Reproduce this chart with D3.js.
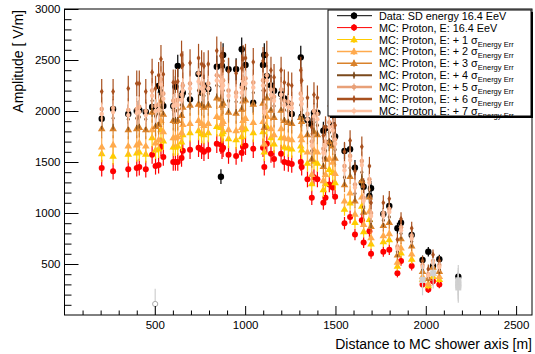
<!DOCTYPE html>
<html>
<head>
<meta charset="utf-8">
<script src="https://cdn.jsdelivr.net/npm/d3@7"></script>
<style>
  body { margin: 0; background: #fff; }
  text { font-family: "Liberation Sans", Arial, Helvetica, sans-serif; }
</style>
</head>
<body>
<div id="chart"></div>
<script>
// station distances [m]
const distances = [206, 269, 353, 400, 414, 450, 485, 504, 521, 534, 547, 602, 614, 627, 648, 655, 695, 742, 759, 772,
  796, 843, 866, 872, 878, 908, 950, 981, 988, 1002, 1045, 1099, 1106, 1120, 1143, 1160, 1199, 1217, 1239, 1258,
  1308, 1313, 1345, 1369, 1381, 1400, 1433, 1445, 1466, 1485, 1498, 1550, 1581, 1608, 1646, 1656, 1688, 1697, 1765, 1798,
  1843, 1863, 1922, 1982, 2014, 2040, 2075, 2180];

const dataAmp = [1925, 2020, 1970, 2000, 2010, 1990, 2040, 2017, 2245, 2183, 2050, 2049, 2238, 2441, 2150, 2180, 2114, 2363, 2180, 2250,
  2213, 2435, 1356, 2441, 2549, 2409, 2409, 2605, 2255, 2451, 2081, 2451, 2549, 2343, 2250, 2199, 2167, 2124, 2075, 1971,
  2526, 1944, 1912, 1870, 1983, 1983, 1807, 1830, 1689, 1863, 1750, 1608, 1625, 1444, 1297, 1258, 1167, 1242, 990, 1069,
  850, 905, 784, 539, 621, 480, 546, 375];

const mcE = [1440, 1410, 1430, 1440, 1450, 1430, 1570, 1460, 1470, 1650, 1550, 1500, 1500, 1500, 1540, 1610, 1620, 1640, 1620, 1600,
  1620, 1680, 1670, 1620, 1640, 1570, 1560, 1590, 1650, 1660, 1630, 1640, 1450, 1680, 1580, 1530, 1580, 1500, 1490, 1480,
  1500, 1450, 1330, 1150, 1350, 1330, 1100, 1150, 1280, 1250, 1160, 900, 960, 790, 930, 710, 820, 600, 620, 640,
  410, 530, 480, 300, 250, 330, 300, null];
const mcP1 = [1585, 1560, 1580, 1590, 1600, 1580, 1740, 1620, 1630, 1820, 1710, 1650, 1650, 1660, 1700, 1770, 1790, 1810, 1780, 1770,
  1790, 1850, 1840, 1780, 1800, 1730, 1720, 1750, 1820, 1830, 1790, 1800, 1600, 1850, 1740, 1680, 1740, 1650, 1640, 1630,
  1660, 1620, 1490, 1290, 1510, 1490, 1230, 1290, 1430, 1400, 1300, 1040, 1100, 910, 1070, 820, 940, 700, 720, 740,
  480, 610, 550, 350, 290, 380, 350, null];
const mcP2 = [1650, 1670, 1660, 1670, 1690, 1660, 1820, 1690, 1720, 1910, 1800, 1740, 1740, 1750, 1790, 1870, 1880, 1910, 1880, 1860,
  1880, 1950, 1940, 1880, 1900, 1820, 1810, 1840, 1910, 1930, 1890, 1900, 1680, 1950, 1830, 1770, 1830, 1740, 1730, 1720,
  1760, 1720, 1600, 1380, 1620, 1600, 1320, 1380, 1540, 1500, 1390, 1120, 1200, 990, 1160, 890, 1020, 760, 780, 800,
  520, 660, 600, 380, 310, 410, 380, null];
const mcP3 = [1830, 1830, 1820, 1830, 1840, 1820, 1990, 1850, 1870, 2100, 1970, 1910, 1900, 1910, 1960, 2040, 2060, 2070, 2060, 2040,
  2060, 2130, 2120, 2060, 2080, 1990, 1980, 2020, 2100, 2110, 2070, 2080, 1840, 2130, 2010, 1940, 2010, 1910, 1890, 1880,
  1940, 1900, 1770, 1530, 1800, 1770, 1460, 1530, 1700, 1660, 1540, 1280, 1360, 1120, 1320, 1010, 1160, 870, 880, 910,
  590, 750, 680, 430, 360, 470, 430, null];
const mcP4 = [1930, 1930, 1920, 1930, 1940, 1920, 2100, 1950, 1970, 2210, 2080, 2010, 2000, 2010, 2060, 2160, 2170, 2200, 2170, 2150,
  2170, 2250, 2240, 2170, 2200, 2100, 2090, 2130, 2210, 2220, 2180, 2200, 1940, 2250, 2120, 2050, 2120, 2010, 2000, 1980,
  2060, 2010, 1860, 1610, 1890, 1860, 1540, 1610, 1790, 1750, 1620, 1350, 1440, 1190, 1400, 1060, 1230, 920, 930, 960,
  620, 800, 720, 450, 380, 500, 450, null];
const mcP5 = [2020, 2030, 2010, 2020, 2040, 2000, 2200, 2050, 2060, 2310, 2170, 2100, 2100, 2110, 2160, 2250, 2270, 2370, 2270, 2240,
  2270, 2350, 2340, 2270, 2300, 2200, 2180, 2230, 2310, 2320, 2280, 2300, 2030, 2350, 2210, 2140, 2210, 2100, 2090, 2070,
  2170, 2120, 1970, 1700, 2000, 1970, 1630, 1700, 1890, 1850, 1720, 1460, 1560, 1280, 1510, 1150, 1330, 1000, 1000, 1040,
  670, 860, 780, 490, 400, 530, 490, null];
const mcP6 = [2190, 2190, 2220, 2270, 2270, 2190, 2380, 2220, 2350, 2510, 2360, 2280, 2280, 2290, 2550, 2450, 2470, 2520, 2460, 2440,
  2460, 2590, 2540, 2460, 2490, 2390, 2370, 2420, 2510, 2520, 2480, 2490, 2200, 2550, 2400, 2330, 2400, 2280, 2260, 2250,
  2400, 2300, 2130, 1840, 2160, 2130, 1760, 1840, 2050, 2000, 1860, 1600, 1710, 1410, 1650, 1260, 1460, 1100, 1100, 1140,
  740, 940, 850, 530, 450, 590, 530, null];
const mcP7 = [1970, 1990, 1960, 1980, 1990, 1960, 2150, 2000, 2010, 2260, 2120, 2050, 2060, 2060, 2110, 2200, 2220, 2290, 2220, 2190,
  2220, 2300, 2290, 2220, 2250, 2150, 2140, 2180, 2260, 2270, 2230, 2250, 1990, 2300, 2160, 2100, 2160, 2060, 2040, 2030,
  2120, 2070, 1920, 1660, 1950, 1920, 1590, 1660, 1840, 1810, 1680, 1420, 1520, 1250, 1470, 1120, 1300, 970, 970, 1010,
  650, 830, 750, 470, 390, 510, 470, null];

// rejected / flagged points drawn in grey
const grayDist = [502, 1982, 2041, 2180, 2180, 2180, 2180];
const grayAmp = [108, 343, 410, 340, 310, 290, 270];

const xTicks = [500, 1000, 1500, 2000, 2500];
const yTicks = [500, 1000, 1500, 2000, 2500, 3000];

const legendLabels = ["Data: SD energy 16.4 EeV", "MC: Proton, E: 16.4 EeV",
  "MC: Proton, E: + 1 σ", "MC: Proton, E: + 2 σ", "MC: Proton, E: + 3 σ", "MC: Proton, E: + 4 σ",
  "MC: Proton, E: + 5 σ", "MC: Proton, E: + 6 σ", "MC: Proton, E: + 7 σ"];

const series = [
  { values: dataAmp, color: "#000000", shape: "circle", r: 3.2, err: 0.035, lw: 1 },
  { values: mcE, color: "#ff0000", shape: "circle", r: 3.0, err: 0.04, lw: 1 },
  { values: mcP1, color: "#ffcc00", shape: "tri", r: 3.3, err: 0.04, lw: 1 },
  { values: mcP2, color: "#ffaa4d", shape: "tri", r: 3.3, err: 0.04, lw: 1.5 },
  { values: mcP3, color: "#d9822b", shape: "tri", r: 3.3, err: 0.04, lw: 1.5 },
  { values: mcP4, color: "#7b4a1c", shape: "diamond", r: 2.0, err: 0.045, lw: 2 },
  { values: mcP5, color: "#e8a078", shape: "circle", r: 2.3, err: 0.045, lw: 2.5 },
  { values: mcP6, color: "#a8501e", shape: "diamond", r: 2.2, err: 0.045, lw: 2.5 },
  { values: mcP7, color: "#ffc1a0", shape: "circle", r: 2.2, err: 0.045, lw: 2.5 }
];

const W = 535, H = 354;
const margin = { top: 9, right: 3, bottom: 39, left: 64.5 };

const svg = d3.select("#chart").append("svg")
  .attr("width", W).attr("height", H);

const x = d3.scaleLinear().domain([0, 2588]).range([margin.left, W - margin.right]);
const y = d3.scaleLinear().domain([0, 3000]).range([H - margin.bottom, margin.top]);

function drawMarker(g, shape, cx, cy, r, color) {
  if (shape === "circle") {
    g.append("circle").attr("cx", cx).attr("cy", cy).attr("r", r).attr("fill", color);
  } else {
    const type = shape === "tri" ? d3.symbolTriangle : d3.symbolDiamond;
    const size = shape === "tri" ? r * r * 2.3 : r * r * 2.6;
    g.append("path").attr("d", d3.symbol().type(type).size(size))
      .attr("transform", `translate(${cx},${cy + (shape === "tri" ? 0.6 : 0)})`)
      .attr("fill", color);
  }
}

const plot = svg.append("g");

// points with vertical error bars
series.forEach(s => {
  const g = plot.append("g");
  s.values.forEach((v, i) => {
    if (v == null) return;
    const cx = x(distances[i]);
    g.append("line")
      .attr("x1", cx).attr("x2", cx)
      .attr("y1", y(v * (1 - s.err) - 25)).attr("y2", y(v * (1 + s.err) + 25))
      .attr("stroke", s.color).attr("stroke-width", 1.2);
    drawMarker(g, s.shape, cx, y(v), s.r, s.color);
  });
});

// grey points
const gg = plot.append("g");
grayDist.forEach((d, i) => {
  const cx = x(d), cy = y(grayAmp[i]);
  gg.append("line").attr("x1", cx).attr("x2", cx)
    .attr("y1", y(Math.max(0, grayAmp[i] - 150))).attr("y2", y(grayAmp[i] + 150))
    .attr("stroke", "#cfcfcf").attr("stroke-width", 1.2);
  if (i === 0) {
    gg.append("circle").attr("cx", cx).attr("cy", cy).attr("r", 2.6)
      .attr("fill", "#fff").attr("stroke", "#aaa");
  } else {
    gg.append("rect").attr("x", cx - 3).attr("y", cy - 3).attr("width", 6).attr("height", 6)
      .attr("fill", "#d0d0d0");
  }
});

// frame
svg.append("rect")
  .attr("x", margin.left).attr("y", margin.top)
  .attr("width", W - margin.right - margin.left)
  .attr("height", H - margin.bottom - margin.top)
  .attr("fill", "none").attr("stroke", "#000").attr("stroke-width", 1);

// y axis
const yMinor = d3.range(100, 3000, 100).filter(v => v % 500 !== 0);
svg.append("g").attr("transform", `translate(${margin.left},0)`)
  .call(d3.axisLeft(y).tickValues(yMinor).tickSize(-7).tickFormat(""))
  .call(g => g.select(".domain").remove());
svg.append("g").attr("transform", `translate(${margin.left},0)`)
  .call(d3.axisLeft(y).tickValues(yTicks).tickSize(-14).tickPadding(4).tickFormat(d3.format("d")))
  .call(g => g.select(".domain").remove())
  .call(g => g.selectAll("text").attr("font-size", 11.5).attr("fill", "#000")
    .attr("font-family", "'Liberation Sans', Arial, sans-serif"));

// x axis
const xMinor = d3.range(100, 2600, 100).filter(v => v % 500 !== 0);
svg.append("g").attr("transform", `translate(0,${H - margin.bottom})`)
  .call(d3.axisBottom(x).tickValues(xMinor).tickSize(-4.5).tickFormat(""))
  .call(g => g.select(".domain").remove());
svg.append("g").attr("transform", `translate(0,${H - margin.bottom})`)
  .call(d3.axisBottom(x).tickValues(xTicks).tickSize(-9).tickPadding(6).tickFormat(d3.format("d")))
  .call(g => g.select(".domain").remove())
  .call(g => g.selectAll("text").attr("font-size", 11.5).attr("fill", "#000")
    .attr("font-family", "'Liberation Sans', Arial, sans-serif"));

// axis titles
svg.append("text")
  .attr("x", W - 3).attr("y", 349)
  .attr("text-anchor", "end").attr("font-size", 14)
  .text("Distance to MC shower axis [m]");
svg.append("text")
  .attr("transform", "translate(23,10) rotate(-90)")
  .attr("text-anchor", "end").attr("font-size", 14)
  .text("Amplitude [  V/m]");

// legend
const lg = svg.append("g");
const lx = 328, ly = 10, lw = 203, lh = 106;
lg.append("rect").attr("x", lx + 2).attr("y", ly + 2).attr("width", lw).attr("height", lh).attr("fill", "#000");
lg.append("rect").attr("x", lx).attr("y", ly).attr("width", lw).attr("height", lh)
  .attr("fill", "#fff").attr("stroke", "#000").attr("stroke-width", 1);

legendLabels.forEach((label, i) => {
  const s = series[i];
  const cy = 15.7 + i * 11.9;
  lg.append("line").attr("x1", 337).attr("x2", 372).attr("y1", cy).attr("y2", cy)
    .attr("stroke", s.color).attr("stroke-width", s.lw);
  lg.append("line").attr("x1", 354).attr("x2", 354).attr("y1", cy - 3.5).attr("y2", cy + 3.5)
    .attr("stroke", s.color).attr("stroke-width", 1.2);
  drawMarker(lg, s.shape, 354, cy, s.r, s.color);
  const t = lg.append("text").attr("x", 379).attr("y", cy + 4).attr("font-size", 10.8).text(label);
  if (i >= 2) {
    t.append("tspan").attr("dy", 3).attr("font-size", 7.5).text("Energy Err");
  }
});
</script>
</body>
</html>
